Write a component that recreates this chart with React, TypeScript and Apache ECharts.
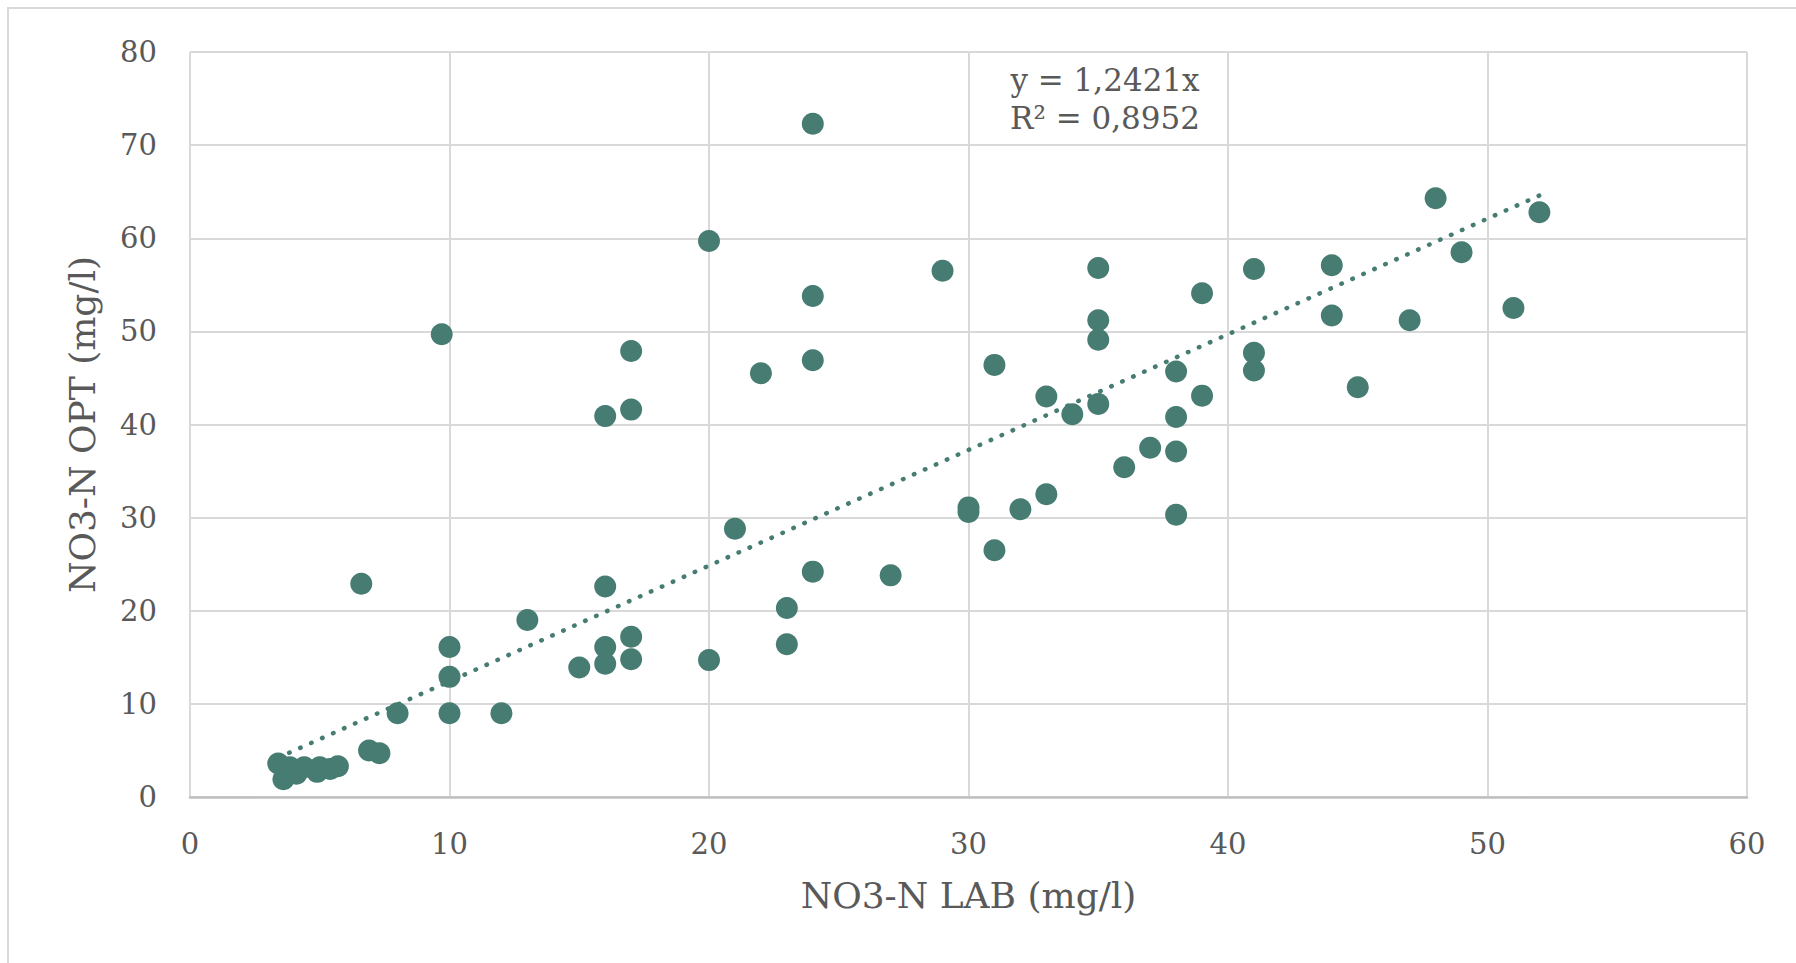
import React, { useEffect, useRef } from "react";
import * as echarts from "echarts";

const labX: number[] = [
  3.4, 3.6, 3.85, 4.1, 4.4, 4.9, 5.0, 5.4, 5.7,
  6.9, 7.3, 6.6, 8, 9.7, 10, 10, 10, 12, 13, 15,
  16, 16, 16, 16, 17, 17, 17, 17, 20, 20, 21, 22, 23, 23,
  24, 24, 24, 24, 27, 29, 30, 30, 31, 31, 32, 33, 33, 34,
  35, 35, 35, 35, 36, 37, 38, 38, 38, 38, 39, 39,
  41, 41, 41, 44, 44, 45, 47, 48, 49, 51, 52,
];
const optY: number[] = [
  3.6, 1.9, 3.2, 2.5, 3.2, 2.7, 3.2, 3.0, 3.3,
  5.0, 4.7, 22.9, 9, 49.7, 16.1, 12.9, 9, 9, 19, 13.9,
  22.6, 16.1, 14.3, 40.9, 17.2, 14.8, 47.9, 41.6, 14.7, 59.7, 28.8, 45.5, 20.3, 16.4,
  24.2, 72.3, 53.8, 46.9, 23.8, 56.5, 31.1, 30.6, 26.5, 46.4, 30.9, 32.5, 43, 41.1,
  56.8, 51.2, 49.1, 42.2, 35.4, 37.5, 45.7, 40.8, 37.1, 30.3, 54.1, 43.1,
  56.7, 47.7, 45.8, 57.1, 51.7, 44, 51.2, 64.3, 58.5, 52.5, 62.8,
];
const SLOPE = 1.2421;
const equationLines: string[] = ["y = 1,2421x", "R² = 0,8952"];
const xTicks = { min: 0, max: 60, interval: 10 };
const yTicks = { min: 0, max: 80, interval: 10 };
const xTitle = "NO3-N LAB (mg/l)";
const yTitle = "NO3-N OPT (mg/l)";

const TEAL = "#467C72";
const TEXT = "#595959";
const FONT = "DejaVu Serif";

export default function App() {
  const ref = useRef<HTMLDivElement>(null);
  useEffect(() => {
    if (!ref.current) return;
    const chart = echarts.init(ref.current, undefined, { renderer: "svg" });
    const points = labX.map((x, i) => [x, optY[i]]);
    const xMin = Math.min(...labX);
    const xMax = Math.max(...labX);
    const trend = [
      [xMin, SLOPE * xMin],
      [xMax, SLOPE * xMax],
    ];
    chart.setOption({
      animation: false,
      backgroundColor: "#ffffff",
      grid: { left: 190, top: 52, width: 1557, height: 745, containLabel: false },
      xAxis: {
        type: "value",
        min: xTicks.min,
        max: xTicks.max,
        interval: xTicks.interval,
        name: xTitle,
        nameLocation: "middle",
        nameGap: 80,
        nameTextStyle: { color: TEXT, fontFamily: FONT, fontSize: 36 },
        axisLine: { show: true, lineStyle: { color: "#bfbfbf", width: 2.5 } },
        axisTick: { show: false },
        axisLabel: { color: TEXT, fontFamily: FONT, fontSize: 29, margin: 32 },
        splitLine: { show: true, lineStyle: { color: "#d9d9d9", width: 2 } },
      },
      yAxis: {
        type: "value",
        min: yTicks.min,
        max: yTicks.max,
        interval: yTicks.interval,
        name: yTitle,
        nameLocation: "middle",
        nameGap: 90,
        nameTextStyle: { color: TEXT, fontFamily: FONT, fontSize: 36 },
        axisLine: { show: false },
        axisTick: { show: false },
        axisLabel: { color: TEXT, fontFamily: FONT, fontSize: 29, margin: 33 },
        splitLine: { show: true, lineStyle: { color: "#d9d9d9", width: 2 } },
      },
      graphic: [
        {
          type: "rect",
          shape: { x: 8, y: 8, width: 2000, height: 2000 },
          style: { fill: "none", stroke: "#d9d9d9", lineWidth: 2 },
          silent: true,
          z: -10,
        },
        {
          type: "text",
          x: 1105,
          y: 80,
          style: {
            text: equationLines[0],
            fill: TEXT,
            font: `31px "${FONT}"`,
            textAlign: "center",
            textVerticalAlign: "middle",
          },
        },
        {
          type: "text",
          x: 1105,
          y: 118,
          style: {
            text: equationLines[1],
            fill: TEXT,
            font: `31px "${FONT}"`,
            textAlign: "center",
            textVerticalAlign: "middle",
          },
        },
      ],
      series: [
        {
          type: "scatter",
          data: points,
          symbol: "circle",
          symbolSize: 22,
          itemStyle: { color: TEAL, opacity: 1 },
          z: 2,
        },
        {
          type: "line",
          data: trend,
          showSymbol: false,
          symbol: "none",
          lineStyle: { color: TEAL, width: 4.5, type: [0.5, 11.5], cap: "round" },
          z: 3,
        },
      ],
    });
    return () => chart.dispose();
  }, []);
  return (
    <div
      ref={ref}
      style={{ position: "fixed", left: 0, top: 0, width: 1796, height: 963, background: "#fff" }}
    />
  );
}
